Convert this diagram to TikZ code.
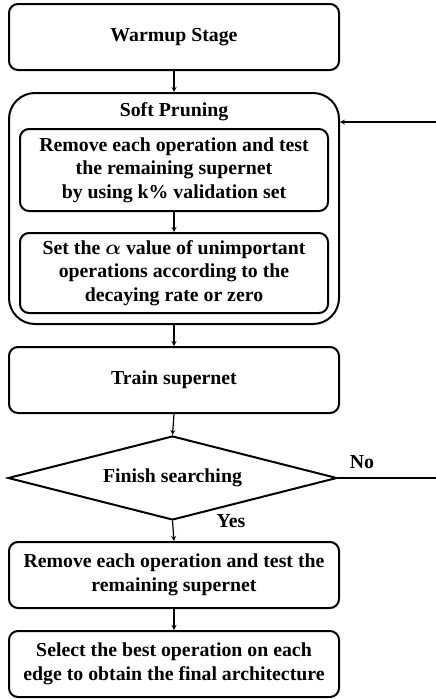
\documentclass[tikz,border=0pt]{standalone}
\usepackage{fontspec}
\setmainfont{Liberation Serif}
\usetikzlibrary{shapes.geometric}

\begin{document}
\begin{tikzpicture}[x=1pt,y=-1pt]
                \useasboundingbox (0,0) rectangle (436,699);
                \begin{scope}[every node/.style={draw, line width=2pt, rounded corners=9pt, align=center, inner sep=0pt, minimum width=330pt, font=\fontsize{19.8}{23.5}\selectfont\bfseries\boldmath}]
                        \node[minimum height=66pt] (W) at (174,37) {Warmup Stage};
                        \node[minimum height=231pt, rounded corners=26pt] (SP) at (174,208.5) {};
                        \node[minimum width=308pt, minimum height=82pt] (RO) at (174,170) {Remove each operation and test\\the remaining supernet\\by using k\% validation set};
                        \node[minimum width=308pt, minimum height=80pt] (SA) at (174,273) {Set the $\alpha$ value of unimportant\\operations according to the\\decaying rate or zero};
                        \node[minimum height=66pt] (T) at (174,380) {Train supernet};
                        \node[diamond, aspect=3.9, minimum width=329pt, minimum height=84pt, rounded corners=0pt] (F) at (172.5,478) {Finish searching};
                        \node[minimum height=66pt] (RT) at (174,575) {Remove each operation and test the\\remaining supernet};
                        \node[minimum height=66pt] (B) at (174,664) {Select the best operation on each\\edge to obtain the final architecture};
                \end{scope}
                \begin{scope}[every node/.style={inner sep=0pt, font=\fontsize{19.8}{23.5}\selectfont\bfseries}]
                        \node (SPt) at (174,112) {Soft Pruning};
                        \node (No) at (362,462) {No};
                        \node (Yes) at (231,521) {Yes};
                \end{scope}
                \coordinate (In) at (436,122);
                \coordinate (Out) at (436,478);
                \begin{scope}[every path/.style={line width=1.2pt, ->, >=stealth}]
                        \path (W.south) edge (SP.north);
                        \path (RO.south) edge (SA.north);
                        \path (SP.south) edge (T.north);
                        \path (T.south) edge (F.north);
                        \path (F.south) edge (RT.north);
                        \path (RT.south) edge (B.north);
                        \path (In) edge (SP.east |- In);
                        \path (F.east) edge[-] (Out);
                \end{scope}
        \end{tikzpicture}
\end{document}
